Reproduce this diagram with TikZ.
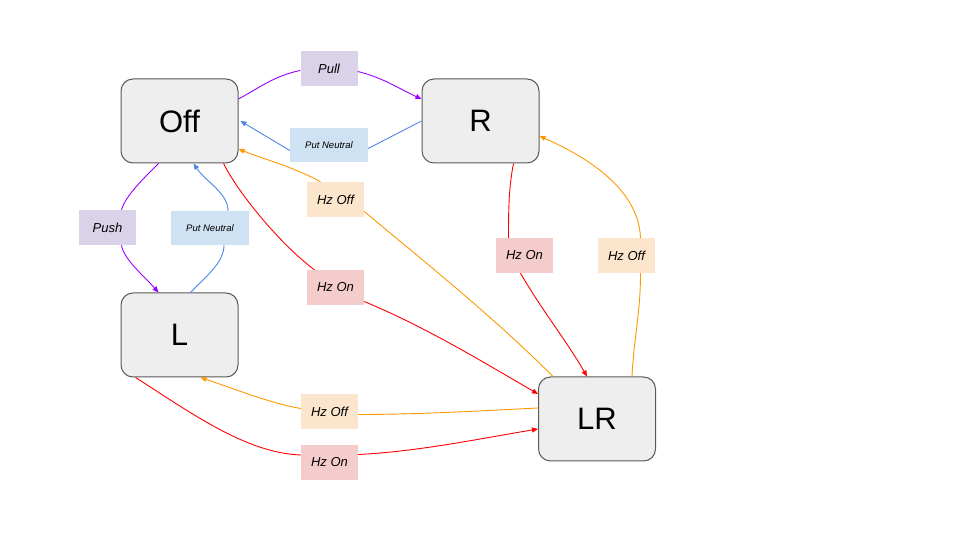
\documentclass[tikz,border=0pt]{standalone}
\usepackage{fontspec}
\setmainfont{Liberation Sans}
\usetikzlibrary{arrows.meta}
\definecolor{nodefill}{HTML}{EEEEEE}
\definecolor{nodeline}{HTML}{595959}
\definecolor{purpbox}{HTML}{D9D2E9}
\definecolor{bluebox}{HTML}{CFE2F3}
\definecolor{orabox}{HTML}{FCE5CD}
\definecolor{redbox}{HTML}{F4CCCC}
\definecolor{purpline}{HTML}{9900FF}
\definecolor{blueline}{HTML}{4A86E8}
\definecolor{oraline}{HTML}{FF9900}
\definecolor{redline}{HTML}{FF0000}
\tikzset{
  state/.style={draw=nodeline, fill=nodefill, line width=1pt, rounded corners=12pt,
    minimum width=117pt, minimum height=84pt, inner sep=0pt, font=\fontsize{31}{35}\selectfont},
  lab/.style={inner sep=0pt, minimum width=57pt, minimum height=35pt, font=\fontsize{13}{15}\selectfont\itshape},
  smalllab/.style={lab, minimum width=78pt, minimum height=34pt, font=\fontsize{9.5}{11}\selectfont\itshape},
  conn/.style={line width=0.9pt},
  arr/.style={conn, -{Triangle[length=6pt,width=5pt]}},
}
\begin{document}
\begin{tikzpicture}[x=1pt,y=1pt]
\useasboundingbox (0,0) rectangle (960,540);
% states
\node[state] (off) at (179.5,419) {Off};
\node[state] (r) at (480.5,419) {R};
\node[state] (l) at (179.5,205) {L};
\node[state] (lr) at (597,121) {LR};
% labels
\node[lab, fill=purpbox] (pull) at (329,471.5) {Pull};
\node[smalllab, fill=bluebox] (pn1) at (329,394.5) {Put Neutral};
\node[lab, fill=purpbox] (push) at (107.5,312.5) {Push};
\node[smalllab, fill=bluebox] (pn2) at (210,312) {Put Neutral};
\node[lab, fill=orabox] (hzoff1) at (335.5,340.5) {Hz Off};
\node[lab, fill=redbox] (hzon1) at (335.5,252.5) {Hz On};
\node[lab, fill=redbox] (hzon2) at (524.5,284.5) {Hz On};
\node[lab, fill=orabox] (hzoff2) at (626.5,284.5) {Hz Off};
\node[lab, fill=orabox] (hzoff3) at (329.5,128.5) {Hz Off};
\node[lab, fill=redbox] (hzon3) at (329.5,77.5) {Hz On};
% Off -> R (Pull)
\draw[conn, purpline] ([yshift=22pt]off.east) .. controls +(22,12) and +(-25,-5) .. ([yshift=-2pt]pull.west);
\draw[arr, purpline] ([yshift=-3pt]pull.east) .. controls +(25,-6) and +(-22,10) .. ([yshift=22pt]r.west);
% R -> Off (Put Neutral)
\draw[conn, blueline] (r.west) -- ([yshift=-3pt]pn1.east);
\draw[arr, blueline] ([yshift=-5pt]pn1.west) -- ([xshift=2pt]off.east);
% Off -> L (Push)
\draw[conn, purpline] ([xshift=-21pt]off.south) .. controls +(-15,-15) and +(4,14) .. ([xshift=14pt]push.north);
\draw[arr, purpline] ([xshift=14pt]push.south) .. controls +(2,-14) and +(-14,16) .. ([xshift=-21pt]l.north);
% L -> Off (Put Neutral)
\draw[conn, blueline] ([xshift=11pt]l.north) .. controls +(14,15) and +(0,-18) .. ([xshift=14pt]pn2.south);
\draw[arr, blueline] ([xshift=18pt]pn2.north) .. controls +(0,18) and +(12,-18) .. ([xshift=14pt]off.south);
% LR -> Off (Hz Off)
\draw[conn, oraline] ([xshift=-44pt]lr.north) .. controls +(-60,60) and +(60,-50) .. ([yshift=-12pt]hzoff1.east);
\draw[arr, oraline] ([xshift=-15pt]hzoff1.north) .. controls +(-25,14) and +(25,-10) .. ([yshift=-28pt]off.east);
% Off -> LR (Hz On)
\draw[conn, redline] ([xshift=44pt]off.south) .. controls +(18,-35) and +(-30,22) .. ([xshift=-21pt]hzon1.north);
\draw[arr, redline] ([yshift=-14pt]hzon1.east) .. controls +(60,-25) and +(-60,35) .. ([yshift=25pt]lr.west);
% R -> LR (Hz On)
\draw[conn, redline] ([xshift=33pt]r.south) .. controls +(-5,-25) and +(0,25) .. ([xshift=-16pt]hzon2.north);
\draw[arr, redline] ([xshift=-4pt]hzon2.south) .. controls +(20,-35) and +(-20,35) .. ([xshift=-10pt]lr.north);
% LR -> R (Hz Off)
\draw[conn, oraline] ([xshift=35pt]lr.north) .. controls +(2,40) and +(0,-40) .. ([xshift=14pt]hzoff2.south);
\draw[arr, oraline] ([xshift=14pt]hzoff2.north) .. controls +(-2,50) and +(45,-20) .. ([yshift=-15pt]r.east);
% LR -> L (Hz Off)
\draw[conn, oraline] ([yshift=11pt]lr.west) .. controls +(-60,-3) and +(60,0) .. ([yshift=-3pt]hzoff3.east);
\draw[arr, oraline] ([yshift=3pt]hzoff3.west) .. controls +(-30,5) and +(30,-10) .. ([xshift=21pt]l.south);
% L -> LR (Hz On)
\draw[conn, redline] ([xshift=-44pt]l.south) .. controls +(55,-35) and +(-55,2) .. ([yshift=7.5pt]hzon3.west);
\draw[arr, redline] ([yshift=8pt]hzon3.east) .. controls +(60,3) and +(-60,-10) .. ([yshift=-10pt]lr.west);
\end{tikzpicture}
\end{document}
